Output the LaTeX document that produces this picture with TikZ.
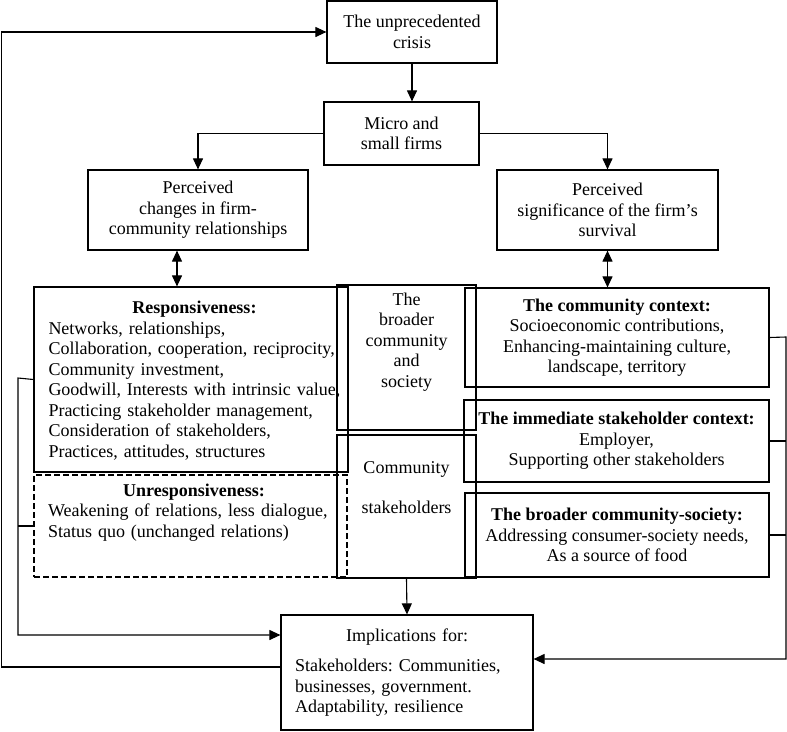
\documentclass[tikz,border=0pt]{standalone}
\usepackage{fontspec}
\setmainfont{Liberation Serif}
\usetikzlibrary{arrows.meta}
\frenchspacing

\tikzset{
  box/.style={draw, line width=1.2pt, inner sep=0pt, align=center},
  dbox/.style={box, dash pattern=on 6pt off 3pt},
  link/.style={line width=1.1pt, -{Triangle[length=11pt,width=10pt]}},
  twoway/.style={line width=1.1pt, {Triangle[length=11pt,width=10pt]}-{Triangle[length=11pt,width=10pt]}},
}

\begin{document}
\begin{tikzpicture}[x=1pt,y=-1pt,font=\fontsize{18}{20.5}\selectfont]
    \useasboundingbox (0,0) rectangle (787,731);
    % top of the flow
    \node[box, minimum width=170pt, minimum height=62pt] (crisis) at (412,32) {The unprecedented\\crisis};
    \node[box, minimum width=155pt, minimum height=63pt] (firms) at (401.5,133.5) {Micro and\\small firms};
    \node[box, minimum width=220pt, minimum height=80pt] (changes) at (198,210) {Perceived\\changes in firm-\\community relationships};
    \node[box, minimum width=221pt, minimum height=80pt] (survival) at (607.5,210) {Perceived\\significance of the firm's\\survival};
    % left column
    \node[box, minimum width=314pt, minimum height=185pt] (resp) at (191,379.5) {};
    \node[inner sep=0pt, text width=292pt, align=left] (resptxt) at ([xshift=3.5pt, yshift=-1pt]resp.center)
        {{\centering\textbf{Responsiveness:}\par}Networks, relationships,\\Collaboration, cooperation, reciprocity,\\Community investment,\\Goodwill, Interests with intrinsic value,\\Practicing stakeholder management,\\Consideration of stakeholders,\\Practices, attitudes, structures};
    \node[dbox, minimum width=313pt, minimum height=102pt] (unresp) at (190.5,526) {};
    \node[anchor=north, inner sep=0pt, text width=292pt, align=left] (unresptxt) at ([xshift=3.5pt, yshift=-9pt]unresp.north)
        {{\centering\textbf{Unresponsiveness:}\par}Weakening of relations, less dialogue,\\Status quo (unchanged relations)};
    % middle column
    \node[box, minimum width=139pt, minimum height=145pt] (society) at (406.5,357.5) {};
    \node[anchor=north, inner sep=0pt, align=center] (societytxt) at ([yshift=-8pt]society.north) {The\\broader\\community\\and\\society};
    \node[box, minimum width=139pt, minimum height=143pt] (stake) at (406.5,506.5) {};
    \node[inner sep=0pt, align=center] (staketxt) at ([yshift=19pt]stake.center) {Community\\[20pt]stakeholders};
    % right column
    \node[box, minimum width=304pt, minimum height=99pt] (context) at (617,337.5)
        {\textbf{The community context:}\\Socioeconomic contributions,\\Enhancing-maintaining culture,\\landscape, territory};
    \node[box, minimum width=305pt, minimum height=82pt] (immediate) at (616.5,441)
        {\textbf{The immediate stakeholder context:}\\Employer,\\Supporting other stakeholders};
    \node[box, minimum width=304pt, minimum height=84pt] (broader) at (617,535)
        {\textbf{The broader community-society:}\\Addressing consumer-society needs,\\As a source of food};
    % outcome
    \node[box, minimum width=252pt, minimum height=115pt, text width=224pt, align=left] (impl) at (407,672.5)
        {{\centering Implications for:\par}\vspace{10pt}Stakeholders: Communities,\\businesses, government.\\Adaptability, resilience};

    \coordinate (lbus) at (18,378);
    \coordinate (rbus) at (786,337);
    \coordinate (loop) at (1.5,32);

    \draw[link] (crisis.south) -- (crisis.south |- firms.north);
    \draw[link] (firms.west) -| (changes.north);
    \draw[link] (firms.east) -| (survival.north);
    \draw[twoway] ([xshift=-21pt]changes.south) -- ([xshift=-21pt]changes.south |- resp.north);
    \draw[twoway] (survival.south) -- (survival.south |- context.north);
    \draw[link] (stake.south) -- (impl.north);
    \draw[link] (resp.west) -- (lbus) |- ([yshift=37.5pt]impl.west);
    \draw[line width=1.1pt] (unresp.west) -- (unresp.west -| lbus);
    \draw[link] (context.east) -- (rbus) |- ([yshift=13.5pt]impl.east);
    \draw[line width=1.1pt] (immediate.east) -- (immediate.east -| rbus);
    \draw[line width=1.1pt] (broader.east) -- (broader.east -| rbus);
    \draw[link] ([yshift=5.5pt]impl.west) -| (loop) -- (crisis.west);
\end{tikzpicture}
\end{document}
